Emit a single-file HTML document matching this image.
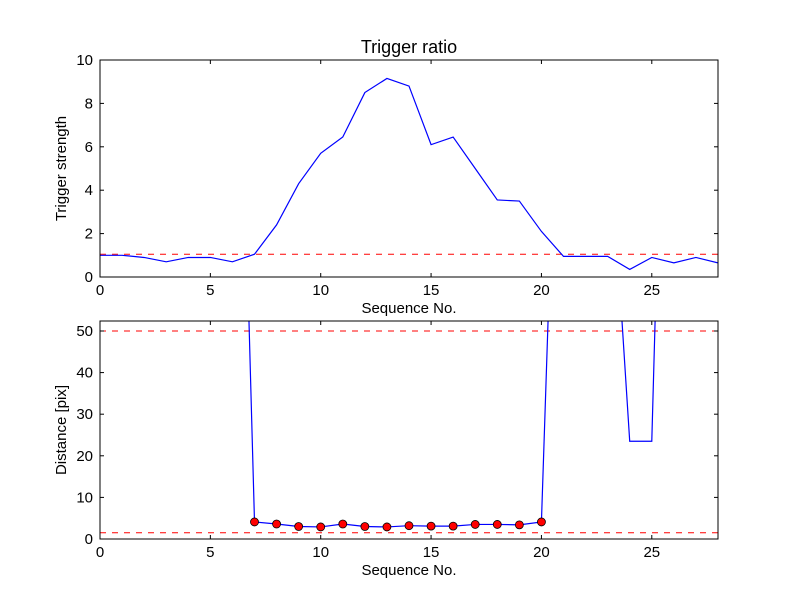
<!DOCTYPE html>
<html><head><meta charset="utf-8"><style>
body{margin:0;background:#fff;}
svg text{font-family:"Liberation Sans","DejaVu Sans",sans-serif;}
</style></head><body>
<svg id="chart" width="800" height="600" xmlns="http://www.w3.org/2000/svg">
<rect width="800" height="600" fill="#fff"/>
</svg>
<script>
const xsTop = [0,1,2,3,4,5,6,7,8,9,10,11,12,13,14,15,16,17,18,19,20,21,22,23,24,25,26,27,28];
const strength = [1.0,1.0,0.9,0.7,0.9,0.9,0.7,1.05,2.4,4.3,5.7,6.45,8.5,9.15,8.8,6.1,6.45,5.0,3.55,3.5,2.1,0.95,0.95,0.95,0.35,0.9,0.65,0.9,0.65];
const strengthThreshold = 1.05;
const xsBot = [6,7,8,9,10,11,12,13,14,15,16,17,18,19,20,21,22,23,24,25,26,27,28];
const distance = [197,4.1,3.6,3.0,2.9,3.6,3.0,2.9,3.2,3.1,3.1,3.5,3.5,3.4,4.1,165,150,106,23.5,23.5,216,200,200];
const markX = [7,8,9,10,11,12,13,14,15,16,17,18,19,20];
const markY = [4.1,3.6,3.0,2.9,3.6,3.0,2.9,3.2,3.1,3.1,3.5,3.5,3.4,4.1];
const distThresholds = [50,1.5];
const xTicks = [0,5,10,15,20,25];
const yTicksTop = [0,2,4,6,8,10];
const yTicksBot = [0,10,20,30,40,50];

const NS="http://www.w3.org/2000/svg";
const svg=document.getElementById('chart');
function mk(tag,attrs,parent){const e=document.createElementNS(NS,tag);for(const k in attrs)e.setAttribute(k,attrs[k]);(parent||svg).appendChild(e);return e;}
const L=100,R=718;
const sx=v=>L+(v/28)*(R-L);
function panel(pt,pb,ymax,name){
  const sy=v=>pb-(v/ymax)*(pb-pt);
  const g=mk('g',{});
  
  
  const cid='clip-'+name;
  const cp=mk('clipPath',{id:cid},g);mk('rect',{x:L,y:pt,width:R-L,height:pb-pt},cp);
  return {sy,g,cid,pt,pb};
}
function axes(p,yt,ylabel,title){
  const fr=mk('rect',{x:L,y:p.pt,width:R-L,height:p.pb-p.pt,fill:'none',stroke:'#000','stroke-width':1},p.g);
  
  xTicks.forEach(v=>{const x=sx(v);
    mk('line',{x1:x,x2:x,y1:p.pb,y2:p.pb-4,stroke:'#000'},p.g);
    mk('line',{x1:x,x2:x,y1:p.pt,y2:p.pt+4,stroke:'#000'},p.g);
    const t=mk('text',{x:x,y:p.pb+18,'text-anchor':'middle','font-size':15},p.g);t.textContent=v;
    });
  yt.forEach(v=>{const y=p.sy(v);
    mk('line',{x1:L,x2:L+4,y1:y,y2:y,stroke:'#000'},p.g);
    mk('line',{x1:R,x2:R-4,y1:y,y2:y,stroke:'#000'},p.g);
    const t=mk('text',{x:L-7,y:y+5,'text-anchor':'end','font-size':15},p.g);t.textContent=v;
    });
  const xl=mk('text',{x:(L+R)/2,y:p.pb+36,'text-anchor':'middle','font-size':15},p.g);xl.textContent='Sequence No.';
  
  const cy=(p.pt+p.pb)/2;
  const yl=mk('text',{x:66,y:cy,'text-anchor':'middle','font-size':15,transform:`rotate(-90 66 ${cy})`},p.g);yl.textContent=ylabel;
  
  if(title){const tt=mk('text',{x:(L+R)/2,y:p.pt-7,'text-anchor':'middle','font-size':18},p.g);tt.textContent=title;
    }
}
function hline(p,v){const l=mk('line',{x1:L,x2:R,y1:p.sy(v),y2:p.sy(v),stroke:'#f00','stroke-dasharray':'6,6','clip-path':`url(#${p.cid})`},p.g);
  }
function line(p,xs,ys){const pl=mk('polyline',{points:xs.map((x,i)=>sx(x)+','+p.sy(ys[i])).join(' '),fill:'none',stroke:'#00f','stroke-width':1.2,'clip-path':`url(#${p.cid})`},p.g);
  }

const topP=panel(60,277,10,'top-panel');
hline(topP,strengthThreshold);
line(topP,xsTop,strength);
axes(topP,yTicksTop,'Trigger strength','Trigger ratio');

const botP=panel(321,539,52.4,'bottom-panel');
distThresholds.forEach(v=>hline(botP,v));
line(botP,xsBot,distance);
markX.forEach((x,i)=>{const c=mk('circle',{cx:sx(x),cy:botP.sy(markY[i]),r:4,fill:'#f00',stroke:'#000','stroke-width':0.8},botP.g);
  });
axes(botP,yTicksBot,'Distance [pix]',null);
</script>
</body></html>
